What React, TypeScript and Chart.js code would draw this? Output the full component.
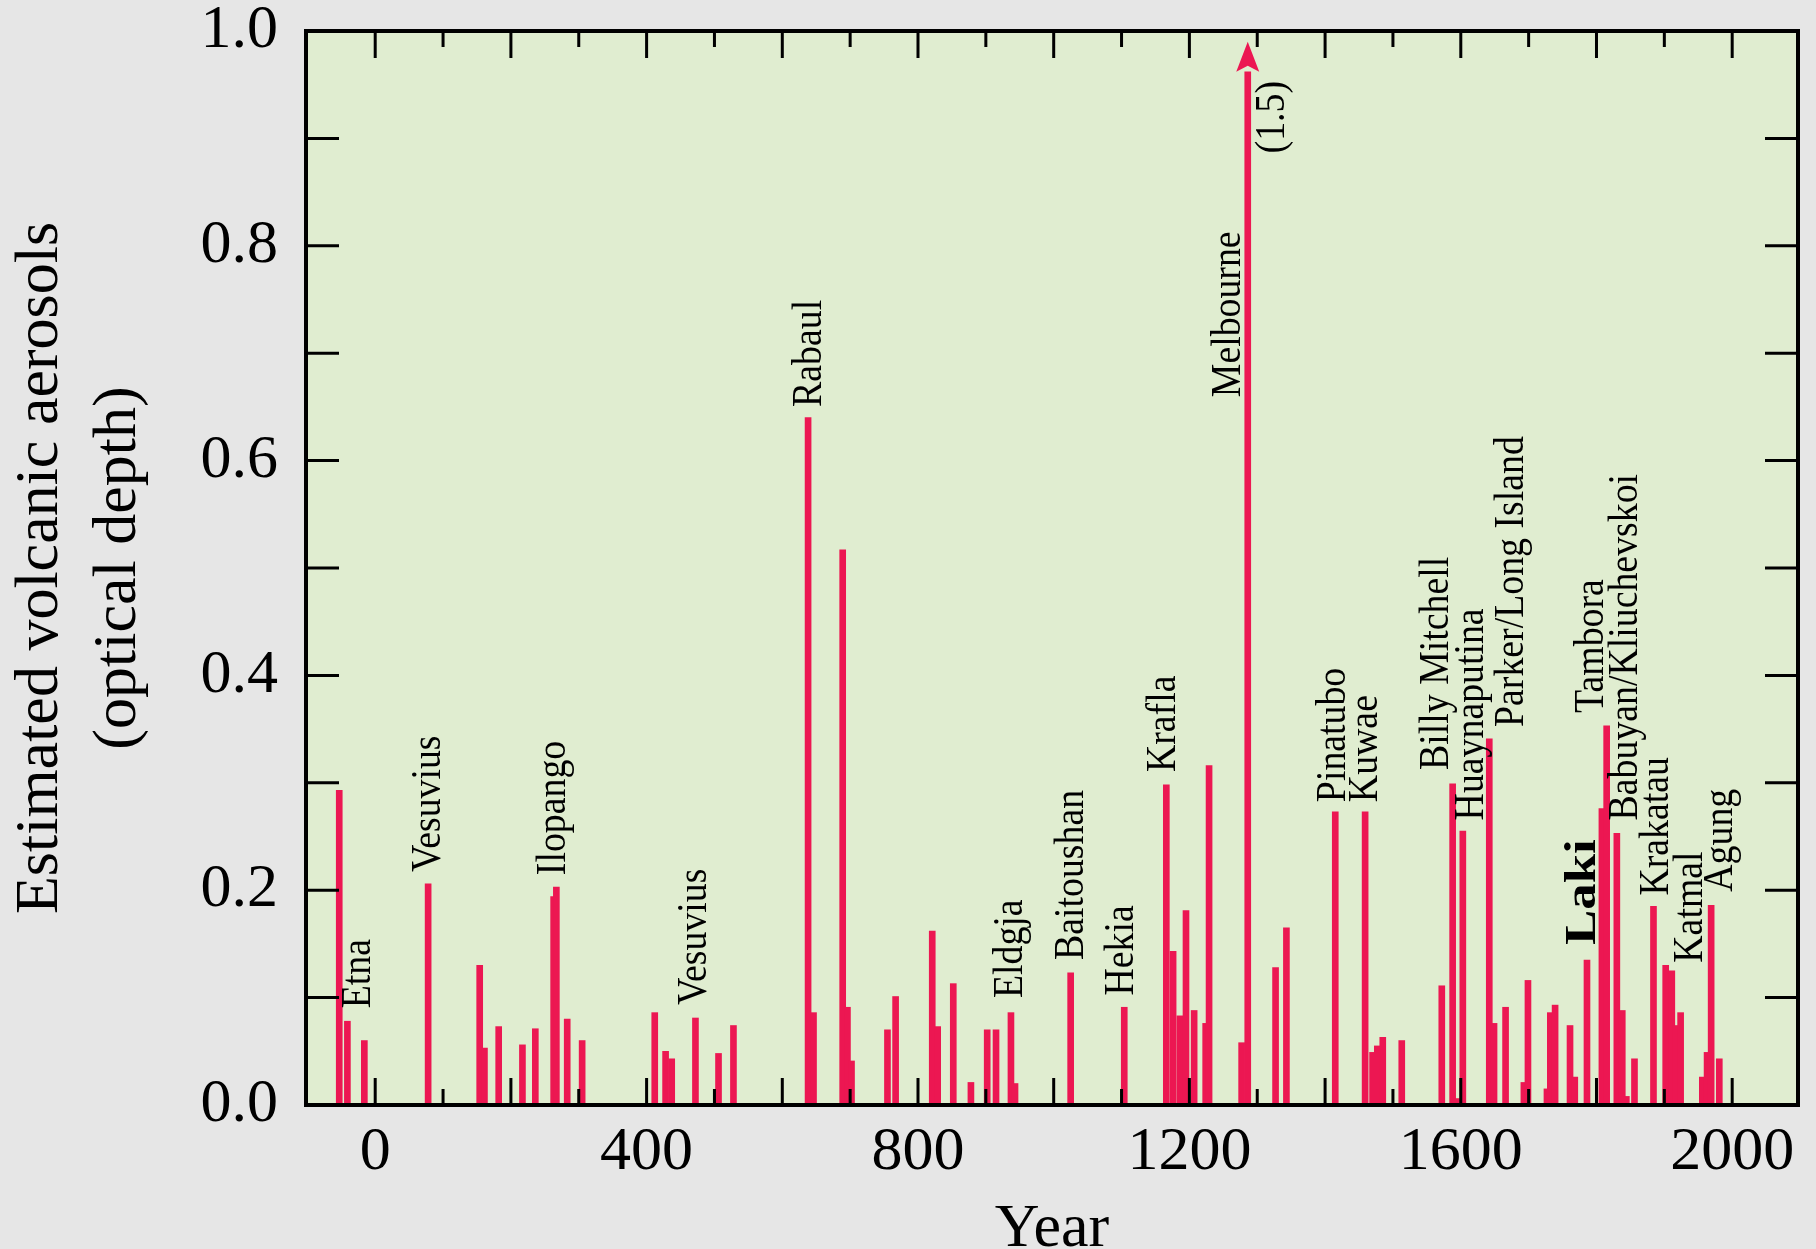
import React, { useEffect, useRef } from 'react';
import { Chart, registerables } from 'chart.js';

Chart.register(...registerables);

// ---- data: eruption years and estimated optical depth ----
const YEARS = [
  -53, -41, -16, 78, 154, 161, 182, 217, 236, 263, 267, 283, 305,
  412, 428, 437, 472, 506, 528, 638, 646, 689, 696, 702, 755, 767,
  821, 829, 852, 878, 902, 915, 937, 943, 1025, 1104,
  1166, 1176, 1186, 1195, 1207, 1224, 1229, 1277, 1286, 1327, 1343,
  1415, 1459, 1470, 1477, 1485, 1513, 1572, 1588, 1595, 1603, 1642, 1649,
  1666, 1693, 1699, 1727, 1732, 1739, 1761, 1768, 1786, 1808, 1815,
  1830, 1838, 1844, 1856, 1884, 1902, 1911, 1917, 1924, 1956, 1963, 1969, 1981,
];
const AEROSOLS = [
  0.293, 0.078, 0.06, 0.206, 0.13, 0.053, 0.073, 0.056, 0.071, 0.194, 0.203, 0.08, 0.06,
  0.086, 0.05, 0.043, 0.081, 0.048, 0.074, 0.64, 0.086, 0.517, 0.091, 0.041, 0.07, 0.101,
  0.162, 0.073, 0.113, 0.021, 0.07, 0.07, 0.086, 0.02, 0.123, 0.091,
  0.298, 0.143, 0.083, 0.181, 0.088, 0.076, 0.316, 0.058, 1.5, 0.128, 0.165,
  0.273, 0.273, 0.049, 0.055, 0.063, 0.06, 0.111, 0.299, 0.006, 0.255, 0.341, 0.076,
  0.091, 0.021, 0.116, 0.015, 0.086, 0.093, 0.074, 0.026, 0.135, 0.276, 0.353,
  0.253, 0.088, 0.008, 0.043, 0.185, 0.13, 0.125, 0.074, 0.086, 0.026, 0.049, 0.186, 0.043,
];

// off-scale eruption (Melbourne, 1.5) is drawn up to an arrow
const MELBOURNE_YEAR = 1286;
const ARROW_TIP = 0.99;
const ARROW_BASE = 0.962;

// ---- annotations: volcano names, anchored at (year, optical depth) ----
const LABEL_TEXTS = [
  'Etna', 'Vesuvius', 'Ilopango', 'Vesuvius', 'Rabaul', 'Eldgja', 'Baitoushan', 'Hekia',
  'Krafla', 'Melbourne', '(1.5)', 'Pinatubo', 'Kuwae', 'Billy Mitchell', 'Huaynaputina',
  'Parker/Long Island', 'Tambora', 'Babuyan/Kliuchevskoi', 'Laki', 'Krakatau', 'Katmal', 'Agung',
];
const LABEL_YEARS = [
  -7, 96, 280, 488, 657, 953, 1043, 1117,
  1179, 1275, 1340, 1430, 1476, 1581, 1633,
  1692, 1810, 1860, 1798, 1906, 1955, 2000,
];
const LABEL_LEVELS = [
  0.09, 0.217, 0.214, 0.093, 0.65, 0.0996, 0.135, 0.102,
  0.31, 0.659, 0.886, 0.282, 0.282, 0.312, 0.265,
  0.352, 0.365, 0.265, 0.149, 0.195, 0.1325, 0.1986,
];

// ---- axes ----
const X_TICK_VALUES = [0, 100, 200, 300, 400, 500, 600, 700, 800, 900, 1000, 1100, 1200, 1300, 1400, 1500, 1600, 1700, 1800, 1900, 2000];
const X_TICK_LABELS = ['0', '400', '800', '1200', '1600', '2000'];
const Y_TICK_VALUES = [0, 0.1, 0.2, 0.3, 0.4, 0.5, 0.6, 0.7, 0.8, 0.9, 1.0];
const Y_TICK_LABELS = ['0.0', '0.2', '0.4', '0.6', '0.8', '1.0'];
const X_TITLE = 'Year';
const Y_TITLE = ['Estimated volcanic aerosols', '(optical depth)'];

// ---- styles ----
const SERIF = '"Liberation Serif", "Times New Roman", serif';
const BAR_COLOR = '#EC1752';
const PLOT_BG = '#E0EDD0';
const PAGE_BG = '#E6E6E6';
const LABEL_STYLE: Record<string, { weight: string; stretch: number; size: number }> = {
  Laki: { weight: 'bold', stretch: 1.2, size: 44 },
};

const backgroundPlugin = {
  id: 'bgFill',
  beforeDraw(chart: any) {
    const { ctx, chartArea: a, width, height } = chart;
    ctx.save();
    ctx.fillStyle = PAGE_BG;
    ctx.fillRect(0, 0, width, height);
    ctx.fillStyle = PLOT_BG;
    ctx.fillRect(a.left, a.top, a.right - a.left, a.bottom - a.top);
    ctx.restore();
  },
};

const overlayPlugin = {
  id: 'overlay',
  afterDatasetsDraw(chart: any) {
    const { ctx, chartArea: a, scales } = chart;
    const xs = scales.x;
    const ys = scales.y;
    ctx.save();

    // arrow head on the off-scale bar
    const ax = xs.getPixelForValue(MELBOURNE_YEAR);
    const tip = ys.getPixelForValue(ARROW_TIP);
    const base = ys.getPixelForValue(ARROW_BASE);
    ctx.fillStyle = BAR_COLOR;
    ctx.beginPath();
    ctx.moveTo(ax, tip);
    ctx.lineTo(ax + 11.5, base);
    ctx.lineTo(ax, base - 6);
    ctx.lineTo(ax - 11.5, base);
    ctx.closePath();
    ctx.fill();

    // volcano names
    ctx.fillStyle = '#000';
    ctx.textAlign = 'left';
    ctx.textBaseline = 'alphabetic';
    LABEL_TEXTS.forEach((txt, i) => {
      const st = LABEL_STYLE[txt] || { weight: 'normal', stretch: 0.9, size: 42 };
      const px = xs.getPixelForValue(LABEL_YEARS[i]);
      const py = ys.getPixelForValue(LABEL_LEVELS[i]);
      ctx.save();
      ctx.translate(px, py);
      ctx.rotate(-Math.PI / 2);
      ctx.scale(st.stretch, 1);
      ctx.font = `${st.weight} ${st.size}px ${SERIF}`;
      ctx.fillText(txt, 0, 0);
      ctx.restore();
    });

    // inward tick marks
    ctx.strokeStyle = '#000';
    ctx.lineWidth = 3;
    ctx.beginPath();
    xs.ticks.forEach((t: any) => {
      const px = xs.getPixelForValue(t.value);
      if (px < a.left + 5 || px > a.right - 5) return;
      const len = Math.round(t.value) % 200 === 0 ? 27 : 16;
      ctx.moveTo(px, a.bottom);
      ctx.lineTo(px, a.bottom - len);
      ctx.moveTo(px, a.top);
      ctx.lineTo(px, a.top + len);
    });
    ys.ticks.forEach((t: any) => {
      const py = ys.getPixelForValue(t.value);
      if (py > a.bottom - 5 || py < a.top + 5) return;
      ctx.moveTo(a.left, py);
      ctx.lineTo(a.left + 33, py);
      ctx.moveTo(a.right, py);
      ctx.lineTo(a.right - 33, py);
    });
    ctx.stroke();

    // frame
    ctx.lineWidth = 4;
    ctx.strokeRect(a.left, a.top, a.right - a.left, a.bottom - a.top);
    ctx.restore();
  },
};

export default function App() {
  const canvasRef = useRef<HTMLCanvasElement | null>(null);

  useEffect(() => {
    const canvas = canvasRef.current;
    if (!canvas) return;
    const chart = new Chart(canvas, {
      type: 'bar',
      data: {
        datasets: [
          {
            data: YEARS.map((x, i) => ({ x, y: Math.min(AEROSOLS[i], ARROW_BASE) })),
            backgroundColor: BAR_COLOR,
            borderWidth: 0,
            barThickness: 6,
          },
        ],
      },
      options: {
        animation: false,
        responsive: false,
        devicePixelRatio: 1,
        layout: { padding: { top: 31, right: 18, left: 0, bottom: 0 } },
        plugins: { legend: { display: false }, tooltip: { enabled: false } },
        scales: {
          x: {
            type: 'linear',
            min: -102,
            max: 2097,
            offset: false,
            grid: { display: false, drawTicks: false },
            border: { display: false },
            afterBuildTicks: (s: any) => {
              s.ticks = X_TICK_VALUES.map((v) => ({ value: v }));
            },
            ticks: {
              autoSkip: false,
              maxRotation: 0,
              padding: 17,
              color: '#000',
              font: { family: SERIF, size: 62, lineHeight: 1 },
              callback: (v: any) => {
                const s = String(Math.round(Number(v)));
                return X_TICK_LABELS.includes(s) ? s : '';
              },
            },
            title: {
              display: true,
              text: X_TITLE,
              color: '#000',
              font: { family: SERIF, size: 62, lineHeight: 0.62 },
              padding: { top: 0, bottom: 0 },
            },
            afterFit: (s: any) => {
              s.height = 144;
              s.paddingLeft = 0;
              s.paddingRight = 0;
              s.paddingTop = 0;
              s.paddingBottom = 0;
            },
          },
          y: {
            type: 'linear',
            min: 0,
            max: 1,
            grid: { display: false, drawTicks: false },
            border: { display: false },
            afterBuildTicks: (s: any) => {
              s.ticks = Y_TICK_VALUES.map((v) => ({ value: v }));
            },
            ticks: {
              autoSkip: false,
              padding: 28,
              color: '#000',
              font: { family: SERIF, size: 62, lineHeight: 1 },
              callback: (v: any) => {
                const s = Number(v).toFixed(1);
                return Y_TICK_LABELS.includes(s) ? s : '';
              },
            },
            title: {
              display: true,
              text: Y_TITLE,
              color: '#000',
              font: { family: SERIF, size: 62, lineHeight: 1.258 },
              padding: { top: 2, bottom: 0 },
            },
            afterFit: (s: any) => {
              s.width = 306;
              s.paddingLeft = 0;
              s.paddingRight = 0;
              s.paddingTop = 0;
              s.paddingBottom = 0;
            },
          },
        },
      },
      plugins: [backgroundPlugin, overlayPlugin],
    } as any);
    return () => chart.destroy();
  }, []);

  return (
    <div style={{ position: 'absolute', left: 0, top: 0, width: 1816, height: 1249, background: PAGE_BG }}>
      <canvas ref={canvasRef} width={1816} height={1249} style={{ display: 'block' }} />
    </div>
  );
}
